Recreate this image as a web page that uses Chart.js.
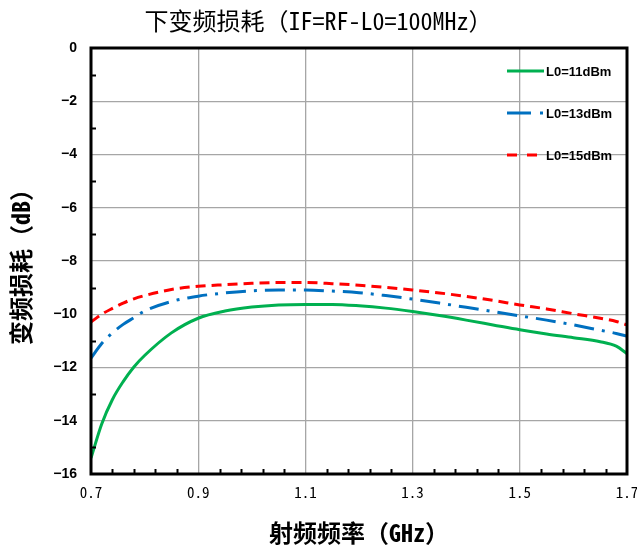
<!DOCTYPE html>
<html>
<head>
<meta charset="utf-8">
<script src="https://cdn.jsdelivr.net/npm/chart.js@4.4.1/dist/chart.umd.min.js"></script>
<style>
  html, body { margin: 0; padding: 0; background: #fff; }
  canvas { display: block; }
</style>
</head>
<body>
<canvas id="chart-loss" width="637" height="554"></canvas>
<script>
  // 射频频率 (GHz)
  const freqs = [0.70, 0.72, 0.74, 0.76, 0.78, 0.80, 0.85, 0.90, 0.95, 1.00, 1.05, 1.10, 1.15,
                 1.20, 1.25, 1.30, 1.35, 1.40, 1.45, 1.50, 1.55, 1.60, 1.65, 1.68, 1.70];

  // 变频损耗 (dB)
  const lo11 = [-15.4, -14.12, -13.2, -12.53, -11.98, -11.55, -10.7, -10.15, -9.88, -9.73, -9.65, -9.63, -9.63,
                -9.68, -9.77, -9.9, -10.05, -10.22, -10.4, -10.58, -10.74, -10.88, -11.03, -11.2, -11.48];
  const lo13 = [-11.65, -11.1, -10.7, -10.38, -10.13, -9.88, -9.52, -9.32, -9.2, -9.12, -9.09, -9.09, -9.13,
                -9.19, -9.3, -9.43, -9.58, -9.74, -9.9, -10.06, -10.22, -10.4, -10.6, -10.72, -10.82];
  const lo15 = [-10.29, -10.0, -9.78, -9.58, -9.42, -9.3, -9.07, -8.95, -8.89, -8.84, -8.81, -8.81, -8.85,
                -8.91, -8.99, -9.09, -9.2, -9.33, -9.48, -9.65, -9.8, -9.98, -10.15, -10.27, -10.4];

  const seriesNames = ["L0=11dBm", "L0=13dBm", "L0=15dBm"];
  const xTicks = [0.7, 0.9, 1.1, 1.3, 1.5, 1.7];
  const yTicks = [0, -2, -4, -6, -8, -10, -12, -14, -16];
  const xMinor = [0.74, 0.78, 0.82, 0.86, 0.94, 0.98, 1.02, 1.06, 1.14, 1.18, 1.22, 1.26,
                  1.34, 1.38, 1.42, 1.46, 1.54, 1.58, 1.62, 1.66];
  const yMinor = [-1, -3, -5, -7, -9, -11, -13, -15];

  const COLORS = ["#00b050", "#0070c0", "#ff0000"];
  const DASHES = [[], [20, 8, 3, 8], [10, 6]];
  const CJK_MONO = "'Noto Sans Mono CJK SC', 'Noto Sans CJK SC', sans-serif";

  function pts(ys) { return freqs.map((x, i) => ({ x, y: ys[i] })); }

  // 边框、内刻度和图例
  const framePlugin = {
    id: "frame",
    afterDraw(chart) {
      const { ctx, chartArea: a, scales } = chart;
      ctx.save();
      ctx.strokeStyle = "#000";
      ctx.lineWidth = 2;
      // minor ticks, pointing inward
      xMinor.forEach(v => {
        const px = Math.round(scales.x.getPixelForValue(v)) + 0.5;
        ctx.beginPath(); ctx.moveTo(px, a.bottom); ctx.lineTo(px, a.bottom - 5); ctx.stroke();
      });
      yMinor.forEach(v => {
        const py = Math.round(scales.y.getPixelForValue(v)) + 0.5;
        ctx.beginPath(); ctx.moveTo(a.left, py); ctx.lineTo(a.left + 5, py); ctx.stroke();
      });
      ctx.lineWidth = 3;
      ctx.strokeRect(a.left, a.top, a.right - a.left, a.bottom - a.top);

      // legend
      const lx = 507, ly = [71, 113, 155];
      ctx.font = "bold 13px 'Liberation Sans', Arial, sans-serif";
      ctx.textBaseline = "middle";
      ctx.fillStyle = "#000";
      seriesNames.forEach((name, i) => {
        ctx.strokeStyle = COLORS[i];
        ctx.lineWidth = 3;
        ctx.setLineDash(i === 1 ? [24, 9, 3, 9] : i === 2 ? [10, 10] : []);
        ctx.beginPath(); ctx.moveTo(lx, ly[i]); ctx.lineTo(lx + 37, ly[i]); ctx.stroke();
        ctx.setLineDash([]);
        ctx.fillText(name, lx + 39, ly[i] + 1);
      });
      ctx.restore();
    }
  };

  function line(label, ys, i) {
    return {
      label, data: pts(ys),
      borderColor: COLORS[i], backgroundColor: COLORS[i],
      borderWidth: 3, borderDash: DASHES[i],
      pointRadius: 0, fill: false,
      cubicInterpolationMode: "monotone"
    };
  }

  new Chart(document.getElementById("chart-loss"), {
    type: "line",
    data: {
      datasets: [line(seriesNames[0], lo11, 0), line(seriesNames[1], lo13, 1), line(seriesNames[2], lo15, 2)]
    },
    options: {
      responsive: false, animation: false,
      plugins: {
        legend: { display: false },
        tooltip: { enabled: false },
        title: {
          display: true, text: "下变频损耗（IF=RF-L0=100MHz）", color: "#000",
          font: { family: CJK_MONO, size: 24, weight: "normal", lineHeight: 1.2 },
          padding: { top: 6, bottom: 13.2 }
        }
      },
      scales: {
        x: {
          type: "linear", min: 0.7, max: 1.7,
          afterBuildTicks: s => { s.ticks = xTicks.map(v => ({ value: v })); },
          afterFit: s => { s.height = 80; s.paddingLeft = 0; s.paddingRight = 10; },
          ticks: {
            autoSkip: false, minRotation: 0, maxRotation: 0, padding: 9, color: "#000",
            font: { family: CJK_MONO, size: 15 },
            callback: v => v.toFixed(1)
          },
          grid: { color: "#a6a6a6", lineWidth: 1.3, drawTicks: false },
          border: { display: false },
          title: {
            display: true, text: "射频频率（GHz）", color: "#000",
            font: { family: CJK_MONO, size: 24, weight: "bold", lineHeight: 1.2 },
            padding: { bottom: 7 }
          }
        },
        y: {
          min: -16, max: 0,
          afterBuildTicks: s => { s.ticks = yTicks.map(v => ({ value: v })); },
          afterFit: s => { s.width = 91; },
          ticks: {
            padding: 14, color: "#000",
            font: { family: "'Liberation Sans', Arial, sans-serif", size: 14, weight: "bold" },
            callback: v => String(v).replace("-", "\u2212")
          },
          grid: { color: "#a6a6a6", lineWidth: 1.3, drawTicks: false },
          border: { display: false },
          title: {
            display: true, text: "变频损耗（dB）", color: "#000",
            font: { family: CJK_MONO, size: 24, weight: "bold", lineHeight: 1.2 },
            padding: { top: 6 }
          }
        }
      }
    },
    plugins: [framePlugin]
  });
</script>
</body>
</html>
